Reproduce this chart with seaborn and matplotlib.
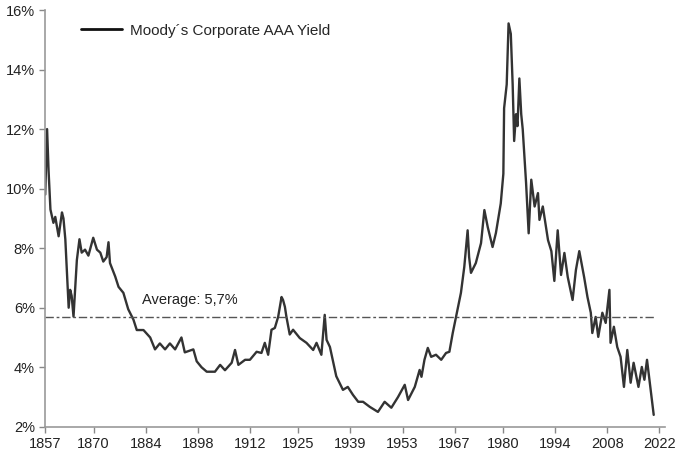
import matplotlib
matplotlib.use("Agg")
import matplotlib.pyplot as plt
import numpy as np
import pandas as pd
import seaborn as sns
from matplotlib.ticker import FuncFormatter

# values
years = [1857.0, 1857.5, 1857.9, 1858.4, 1859.2, 1859.7, 1860.6, 1861.5, 1861.9, 1862.4,
         1863.3, 1863.7, 1864.1, 1864.6, 1865.5, 1866.2, 1866.8, 1867.7, 1868.6, 1869.9,
         1870.9, 1871.8, 1872.6, 1873.5, 1874.0, 1874.4, 1875.8, 1876.7, 1878.0, 1879.3,
         1880.7, 1881.6, 1883.4, 1885.2, 1886.5, 1887.8, 1889.2, 1890.5, 1891.9, 1893.6,
         1894.5, 1896.8, 1897.7, 1899.0, 1900.4, 1902.6, 1904.0, 1905.3, 1907.1, 1908.0,
         1908.9, 1910.7, 1912.0, 1913.8, 1915.1, 1916.0, 1916.9, 1917.8, 1918.7, 1919.6,
         1920.5, 1920.9, 1921.4, 1921.8, 1922.7, 1923.6, 1925.4, 1927.2, 1929.0, 1929.9,
         1931.2, 1932.1, 1932.6, 1933.5, 1935.2, 1937.0, 1938.3, 1939.7, 1941.1, 1942.4,
         1944.2, 1946.4, 1948.2, 1950.0, 1951.8, 1953.6, 1954.5, 1956.3, 1957.6, 1958.1,
         1958.9, 1959.8, 1960.7, 1962.0, 1963.4, 1964.7, 1965.6, 1966.5, 1967.4, 1968.7,
         1969.6, 1970.5, 1970.9, 1971.4, 1972.7, 1974.1, 1975.0, 1975.9, 1977.2, 1978.1,
         1979.4, 1980.1, 1980.3, 1981.0, 1981.5, 1982.1, 1982.6, 1983.0, 1983.5, 1983.9,
         1984.4, 1984.9, 1985.3, 1986.2, 1986.9, 1987.6, 1988.5, 1989.4, 1989.8, 1990.7,
         1992.1, 1993.0, 1993.8, 1994.7, 1995.6, 1996.5, 1997.4, 1998.7, 1999.6, 2000.5,
         2001.8, 2002.7, 2003.6, 2004.0, 2004.9, 2005.6, 2006.7, 2007.6, 2008.6, 2008.9,
         2009.8, 2010.7, 2011.6, 2012.5, 2013.4, 2014.3, 2015.1, 2016.4, 2017.3, 2018.0,
         2018.7, 2019.6, 2020.5]
yields = [9.8, 12.0, 10.6, 9.3, 8.85, 9.05, 8.4, 9.2, 9.0, 8.3,
          6.0, 6.6, 6.4, 5.7, 7.6, 8.3, 7.85, 7.95, 7.75, 8.35,
          7.95, 7.85, 7.55, 7.7, 8.2, 7.5, 7.05, 6.7, 6.5, 5.95,
          5.6, 5.25, 5.25, 5.0, 4.6, 4.8, 4.6, 4.8, 4.6, 5.0,
          4.5, 4.6, 4.2, 4.0, 3.85, 3.85, 4.08, 3.9, 4.15, 4.58,
          4.08, 4.25, 4.25, 4.52, 4.48, 4.82, 4.42, 5.26, 5.32, 5.7,
          6.36, 6.26, 6.03, 5.7, 5.1, 5.26, 4.98, 4.82, 4.58, 4.82,
          4.42, 5.76, 4.92, 4.68, 3.7, 3.24, 3.34, 3.07, 2.84, 2.84,
          2.67, 2.5, 2.84, 2.64, 3.0, 3.41, 2.9, 3.34, 3.91, 3.68,
          4.25, 4.65, 4.35, 4.42, 4.25, 4.48, 4.52, 5.15, 5.7, 6.5,
          7.37, 8.6, 7.7, 7.17, 7.5, 8.17, 9.28, 8.71, 8.04, 8.51,
          9.5, 10.5, 12.7, 13.5, 15.55, 15.2, 13.5, 11.6, 12.5, 12.1,
          13.7, 12.5, 12.0, 10.2, 8.5, 10.3, 9.4, 9.85, 8.95, 9.4,
          8.27, 7.9, 6.9, 8.6, 7.1, 7.84, 7.03, 6.26, 7.27, 7.9,
          7.03, 6.36, 5.83, 5.15, 5.69, 5.02, 5.83, 5.49, 6.6, 4.82,
          5.36, 4.68, 4.35, 3.34, 4.58, 3.48, 4.15, 3.34, 4.01, 3.58,
          4.25, 3.34, 2.4]
average = 5.7
tick_years = [1857, 1870, 1884, 1898, 1912, 1925, 1939, 1953, 1967, 1980, 1994, 2008, 2022]
y_ticks = [2, 4, 6, 8, 10, 12, 14, 16]

df = pd.DataFrame({"year": years, "yield": yields})

sns.set_theme(style="ticks")
plt.rcParams['font.family'] = ['Liberation Sans Narrow', 'Liberation Sans', 'DejaVu Sans']

fig = plt.figure(figsize=(6.75, 4.55), dpi=100)
ax = fig.add_axes([0.067, 0.062, 0.918, 0.916])

sns.lineplot(data=df, x="year", y="yield", ax=ax, color="#333333", linewidth=1.7,
             label="Moody´s Corporate AAA Yield")
ax.plot([years[0], years[-1]], [average, average], color="#555555", linewidth=1.0,
        dashes=(6, 2, 2, 2))
ax.text(1883, 6.02, "Average: 5,7%", fontsize=10.5, color="#222222", va="bottom")

ax.set_xlim(1857, 2023.5)
ax.set_ylim(2, 16)
ax.set_xticks(tick_years)
ax.set_yticks(y_ticks)
ax.yaxis.set_major_formatter(FuncFormatter(lambda v, p: f"{v:.0f}%"))
ax.set_xlabel("")
ax.set_ylabel("")
ax.tick_params(labelsize=10.5, colors="#888888", labelcolor="#222222", length=4, width=1)
for side in ["top", "right"]:
    ax.spines[side].set_visible(False)
for side in ["left", "bottom"]:
    ax.spines[side].set_color("#999999")
    ax.spines[side].set_linewidth(1.2)

leg = ax.legend(loc="upper left", bbox_to_anchor=(0.035, 1.0), frameon=False,
                fontsize=11, handlelength=2.7, handletextpad=0.5)
for line in leg.get_lines():
    line.set_linewidth(2.0)
    line.set_color("#111111")

fig.savefig("out.png", dpi=100)
